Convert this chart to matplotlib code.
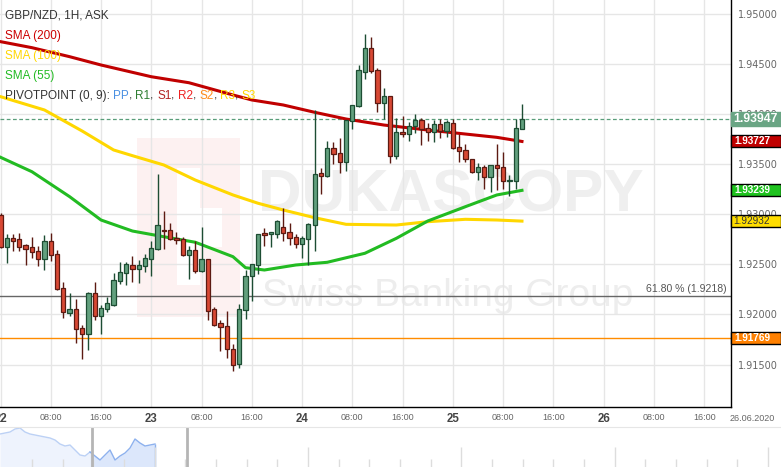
import numpy as np
import matplotlib.pyplot as plt
import matplotlib.transforms as mtransforms
from matplotlib.patches import Rectangle

plt.rcParams['font.family'] = ['Liberation Sans', 'DejaVu Sans']

# GBP/NZD hourly candles, 22.06.2020 00:00 -> 25.06.2020 11:00
hours = np.arange(84)
opens = [1.92993, 1.92677, 1.92760, 1.92750, 1.92691, 1.92674, 1.92631, 1.92551, 1.92731, 1.92601,
         1.92261, 1.92012, 1.92052, 1.91862, 1.91802, 1.92218, 1.91982, 1.92052, 1.92092, 1.92331,
         1.92411, 1.92491, 1.92451, 1.92481, 1.92551, 1.92651, 1.92840, 1.92840, 1.92760, 1.92750,
         1.92591, 1.92641, 1.92431, 1.92551, 1.92052, 1.91912, 1.91882, 1.91653, 1.91503, 1.92042,
         1.92381, 1.92491, 1.92810, 1.92800, 1.92800, 1.92870, 1.92820, 1.92770, 1.92701, 1.92750,
         1.92890, 1.93409, 1.93379, 1.93659, 1.93609, 1.93519, 1.93928, 1.94078, 1.94417, 1.94657,
         1.94437, 1.94108, 1.94178, 1.93579, 1.93818, 1.93798, 1.93878, 1.93938, 1.93858, 1.93818,
         1.93898, 1.93828, 1.93908, 1.93669, 1.93639, 1.93549, 1.93419, 1.93469, 1.93369, 1.93489,
         1.93469, 1.93329, 1.93329, 1.93848]
highs = [1.93013, 1.92803, 1.92803, 1.92813, 1.92704, 1.92773, 1.92681, 1.92793, 1.92813, 1.92641,
         1.92324, 1.92212, 1.92155, 1.91898, 1.92224, 1.92324, 1.92092, 1.92175, 1.92414, 1.92524,
         1.92521, 1.92581, 1.92544, 1.92601, 1.92731, 1.93399, 1.93033, 1.92913, 1.92820, 1.92770,
         1.92681, 1.92734, 1.92870, 1.92554, 1.92075, 1.91942, 1.92032, 1.91703, 1.92102, 1.92441,
         1.92504, 1.92803, 1.92860, 1.92823, 1.92940, 1.93060, 1.92910, 1.92800, 1.92780, 1.92910,
         1.94038, 1.93459, 1.93729, 1.93719, 1.93758, 1.93941, 1.94091, 1.94487, 1.94796, 1.94766,
         1.94457, 1.94257, 1.94181, 1.93958, 1.93978, 1.93918, 1.93998, 1.93958, 1.93908, 1.93938,
         1.93948, 1.93938, 1.93948, 1.93798, 1.93699, 1.93552, 1.93509, 1.93489, 1.93492, 1.93699,
         1.93619, 1.93389, 1.93948, 1.94098]
lows = [1.92664, 1.92517, 1.92637, 1.92637, 1.92494, 1.92564, 1.92487, 1.92447, 1.92537, 1.92245,
        1.91968, 1.91988, 1.91719, 1.91559, 1.91649, 1.91942, 1.91808, 1.92028, 1.92085, 1.92301,
        1.92297, 1.92327, 1.92311, 1.92421, 1.92381, 1.92646, 1.92651, 1.92744, 1.92701, 1.92584,
        1.92357, 1.92411, 1.92421, 1.91942, 1.91885, 1.91633, 1.91563, 1.91433, 1.91463, 1.91952,
        1.92132, 1.92401, 1.92681, 1.92671, 1.92760, 1.92731, 1.92691, 1.92661, 1.92561, 1.92491,
        1.92631, 1.93200, 1.93369, 1.93499, 1.93409, 1.93429, 1.93848, 1.94068, 1.94347, 1.94407,
        1.94018, 1.93948, 1.93509, 1.93549, 1.93768, 1.93729, 1.93808, 1.93689, 1.93729, 1.93719,
        1.93758, 1.93768, 1.93656, 1.93519, 1.93519, 1.93416, 1.93339, 1.93250, 1.93220, 1.93240,
        1.93250, 1.93180, 1.93250, 1.93848]
closes = [1.92677, 1.92760, 1.92737, 1.92677, 1.92657, 1.92621, 1.92551, 1.92731, 1.92591, 1.92252,
          1.92022, 1.92052, 1.91852, 1.91802, 1.92218, 1.91982, 1.92062, 1.92112, 1.92341, 1.92421,
          1.92501, 1.92451, 1.92491, 1.92561, 1.92661, 1.92890, 1.92830, 1.92750, 1.92747, 1.92591,
          1.92641, 1.92431, 1.92551, 1.92032, 1.91892, 1.91872, 1.91653, 1.91493, 1.92052, 1.92381,
          1.92501, 1.92800, 1.92790, 1.92820, 1.92930, 1.92810, 1.92760, 1.92701, 1.92760, 1.92900,
          1.93399, 1.93379, 1.93659, 1.93599, 1.93519, 1.93938, 1.94088, 1.94437, 1.94657, 1.94427,
          1.94108, 1.94178, 1.93579, 1.93818, 1.93798, 1.93878, 1.93938, 1.93848, 1.93818, 1.93898,
          1.93828, 1.93918, 1.93659, 1.93629, 1.93549, 1.93419, 1.93469, 1.93369, 1.93489, 1.93459,
          1.93329, 1.93339, 1.93858, 1.93955]

# moving averages
sma200_h = [0, 5, 11, 16, 24, 30, 37, 40, 45, 50, 55, 61, 68, 74, 79, 83]
sma200 = [1.94723, 1.94663, 1.94573, 1.94490, 1.94373, 1.94313, 1.94191, 1.94141, 1.94091, 1.94018,
          1.93951, 1.93891, 1.93841, 1.93801, 1.93768, 1.93727]
sma100_h = [0, 7, 13, 18, 21, 26, 31, 37, 41, 45, 50, 55, 63, 68, 74, 79, 83]
sma100 = [1.94174, 1.94041, 1.93831, 1.93642, 1.93585, 1.93492, 1.93342, 1.93193, 1.93110, 1.93043,
          1.92966, 1.92900, 1.92893, 1.92926, 1.92950, 1.92943, 1.92932]
sma55_h = [0, 5, 11, 16, 21, 26, 31, 37, 39, 42, 47, 52, 58, 63, 68, 74, 79, 83]
sma55 = [1.93569, 1.93425, 1.93176, 1.92943, 1.92833, 1.92776, 1.92721, 1.92577, 1.92467, 1.92444,
         1.92494, 1.92521, 1.92611, 1.92760, 1.92933, 1.93076, 1.93193, 1.93239]

fib_level = 1.9218
pivot_level = 1.91769
ask_price = 1.93947

tick_hours = list(range(0, 113, 8))
tick_labels = ['22', '08:00', '16:00', '23', '08:00', '16:00', '24', '08:00', '16:00',
               '25', '08:00', '16:00', '26', '08:00', '16:00']
price_ticks = [1.915, 1.92, 1.925, 1.93, 1.935, 1.94, 1.945, 1.95]

# navigator overview series
nav_vals = [33, 34, 35, 38, 39, 35, 33, 32, 31, 30, 29, 27, 23, 21, 22, 17,
            12, 11, 15, 11, 7, 12, 17, 7, 11, 14, 19, 28, 24, 21, 22, 23]

W, H = 781, 467
fig = plt.figure(figsize=(W / 100, H / 100), dpi=100)
ax = fig.add_axes([0, 60 / H, 731 / W, 407 / H])
ax.set_xlim(-0.08, 116.27)
ax.set_ylim(1.910768, 1.951387)
px = (1.951387 - 1.910768) / 407  # price per pixel

# grid / axes
ax.set_axisbelow(True)
ax.set_xticks(tick_hours)
ax.set_xticklabels(tick_labels)
ax.set_yticks(price_ticks)
ax.set_yticklabels(['%.5f' % p for p in price_ticks])
ax.grid(True, color='#e6e6e6', lw=1)
ax.yaxis.tick_right()
ax.tick_params(length=0)
ax.tick_params(axis='y', pad=5, labelsize=7, labelcolor='#666666')
ax.tick_params(axis='x', pad=4, labelsize=6.5, labelcolor='#666666')
for lab in ax.get_yticklabels():
    lab.set_family('DejaVu Sans')
for lab in ax.get_xticklabels():
    if ':' not in lab.get_text():
        lab.set_fontweight('bold')
        lab.set_fontsize(8.3)
        lab.set_color('#444444')
for s in ['left', 'top']:
    ax.spines[s].set_visible(False)
for s in ['right', 'bottom']:
    ax.spines[s].set_color('black')
    ax.spines[s].set_linewidth(1)

trans_fx = mtransforms.blended_transform_factory(fig.transFigure, ax.transData)
ax.text(752 / W, 1.91005, '26.06.2020', transform=trans_fx, ha='center', va='top',
        fontsize=6.5, color='#666666')

# watermark
ax.add_patch(Rectangle((21.7, 1.91975), 16.4, 0.01785, fc='#fdf1f1', ec='none', zorder=0.1))
ax.add_patch(Rectangle((28.1, 1.92293), 3.65, 0.01168, fc='white', ec='none', zorder=0.15))
ax.add_patch(Rectangle((31.7, 1.92673), 3.6, 0.00389, fc='white', ec='none', zorder=0.15))
ax.text(258 / W, 1 - 212 / H, 'DUKASCOPY', transform=fig.transFigure, fontweight='bold',
        fontsize=43.5, color='#efefef', ha='left', va='baseline', zorder=0.2, clip_on=False)
ax.text(262 / W, 1 - 306 / H, 'Swiss Banking Group', transform=fig.transFigure, fontsize=28,
        color='#ededed', ha='left', va='baseline', zorder=0.2, clip_on=False)

# moving averages
ax.plot(sma200_h, sma200, color='#c00000', lw=2.2, zorder=2)
ax.plot(sma100_h, sma100, color='#ffd700', lw=2.2, zorder=2)
ax.plot(sma55_h, sma55, color='#22bb22', lw=2.2, zorder=2)

# horizontal levels
ax.axhline(fib_level, color='#666666', lw=1, zorder=1.5)
ax.axhline(pivot_level, color='#ff8c00', lw=1, zorder=1.5)
ax.axhline(ask_price, color='#5a9e7a', lw=0.9, ls=(0, (3, 2)), zorder=1.5)
ax.annotate('61.80 % (1.9218)', xy=(727 / 731, fib_level), xycoords=('axes fraction', 'data'),
            xytext=(0, 1.5), textcoords='offset points', ha='right', va='bottom',
            fontsize=7.6, color='#555555')

# candles
o = np.array(opens); c = np.array(closes)
up = c >= o
fills = np.where(up, '#62a07e', '#d84834')
edges = np.where(up, '#1d4d33', '#5c1a12')
ax.vlines(hours, lows, highs, colors=edges, lw=1, zorder=3)
ax.bar(hours, np.maximum(np.abs(c - o), 0.00004), bottom=np.minimum(o, c), width=0.68,
       color=fills, edgecolor=edges, linewidth=0.9, zorder=4)

# price labels on the axis
def price_box(price, text, fc, tc, ec='black', hpx=12, size=7.2, bold=True, xc=752):
    hh = hpx * px
    fig.add_artist(Rectangle((731 / W, price - hh / 2), 50 / W, hh, transform=trans_fx,
                             fc=fc, ec=ec, lw=1, zorder=10))
    fig.text(xc / W, price, text, transform=trans_fx, ha='center', va='center',
             fontsize=size, color=tc, fontweight='bold' if bold else 'normal', zorder=11)

price_box(ask_price, '%.5f' % ask_price, '#6aa584', 'white', ec='#6aa584', hpx=14, size=8.8, xc=755)
price_box(sma200[-1], '%.5f' % sma200[-1], '#c00000', 'white')
price_box(sma55[-1], '%.5f' % sma55[-1], '#1fc21f', 'white')
price_box(sma100[-1], '%.5f' % sma100[-1], '#ffdd00', '#333333', bold=False)
price_box(pivot_level, '%.5f' % pivot_level, '#ff8000', 'white')

# legend texts
lx = 5 / W
fig.text(lx, 1 - 15.7 / H, 'GBP/NZD, 1H, ASK', fontsize=8.5, color='#333333', va='center')
fig.text(lx, 1 - 36 / H, 'SMA (200)', fontsize=8.5, color='#cc0000', va='center')
fig.text(lx, 1 - 56 / H, 'SMA (100)', fontsize=8.5, color='#ffd700', va='center')
fig.text(lx, 1 - 76 / H, 'SMA (55)', fontsize=8.5, color='#22bb22', va='center')
prev = fig.text(lx, 1 - 96 / H, 'PIVOTPOINT (0, 9): ', fontsize=8.5, color='#333333', va='center')
parts = [('PP', '#4a90e2'), (', ', '#333333'), ('R1', '#2e7d32'), (', ', '#333333'),
         ('S1', '#b22222'), (', ', '#333333'), ('R2', '#ee2222'), (', ', '#333333'),
         ('S2', '#ff8c1a'), (', ', '#333333'), ('R3', '#ffd700'), (', ', '#333333'),
         ('S3', '#ffd700')]
for s, col in parts:
    prev = ax.annotate(s, xy=(1, 0), xycoords=prev, ha='left', va='bottom',
                       fontsize=8.5, color=col, annotation_clip=False)

# navigator
nav = fig.add_axes([0, 0, 1, 40 / H])
nav.set_xlim(0, W)
nav.set_ylim(0, 40)
nav.set_xticks([]); nav.set_yticks([])
for s in ['left', 'right', 'bottom']:
    nav.spines[s].set_visible(False)
nav.spines['top'].set_color('#e6e6e6')
nav_pos = np.arange(len(nav_vals)) * 5
nav.fill_between(nav_pos[:19], nav_vals[:19], 0, color='#eef3fd', lw=0)
nav.plot(nav_pos[:19], nav_vals[:19], color='#bcd1f5', lw=1)
nav.fill_between(nav_pos[18:], nav_vals[18:], 0, color='#dce7fb', lw=0)
nav.plot(nav_pos[18:], nav_vals[18:], color='#8db1ee', lw=1)
nav.vlines(nav_pos[-1], 0, nav_vals[-1], color='#8db1ee', lw=1)
tick_x = 32 + 30.66 * np.arange(25)
tall = np.arange(25) % 5 == 4
nav.vlines(tick_x[~tall], 0, 8, color='#dddddd', lw=1)
nav.vlines(tick_x[tall], 0, 20, color='#dddddd', lw=1)
nav.axvline(92, color='#b5b5b5', lw=2)
nav.axvline(187, color='#b5b5b5', lw=2)

fig.savefig('out.png', dpi=100)
